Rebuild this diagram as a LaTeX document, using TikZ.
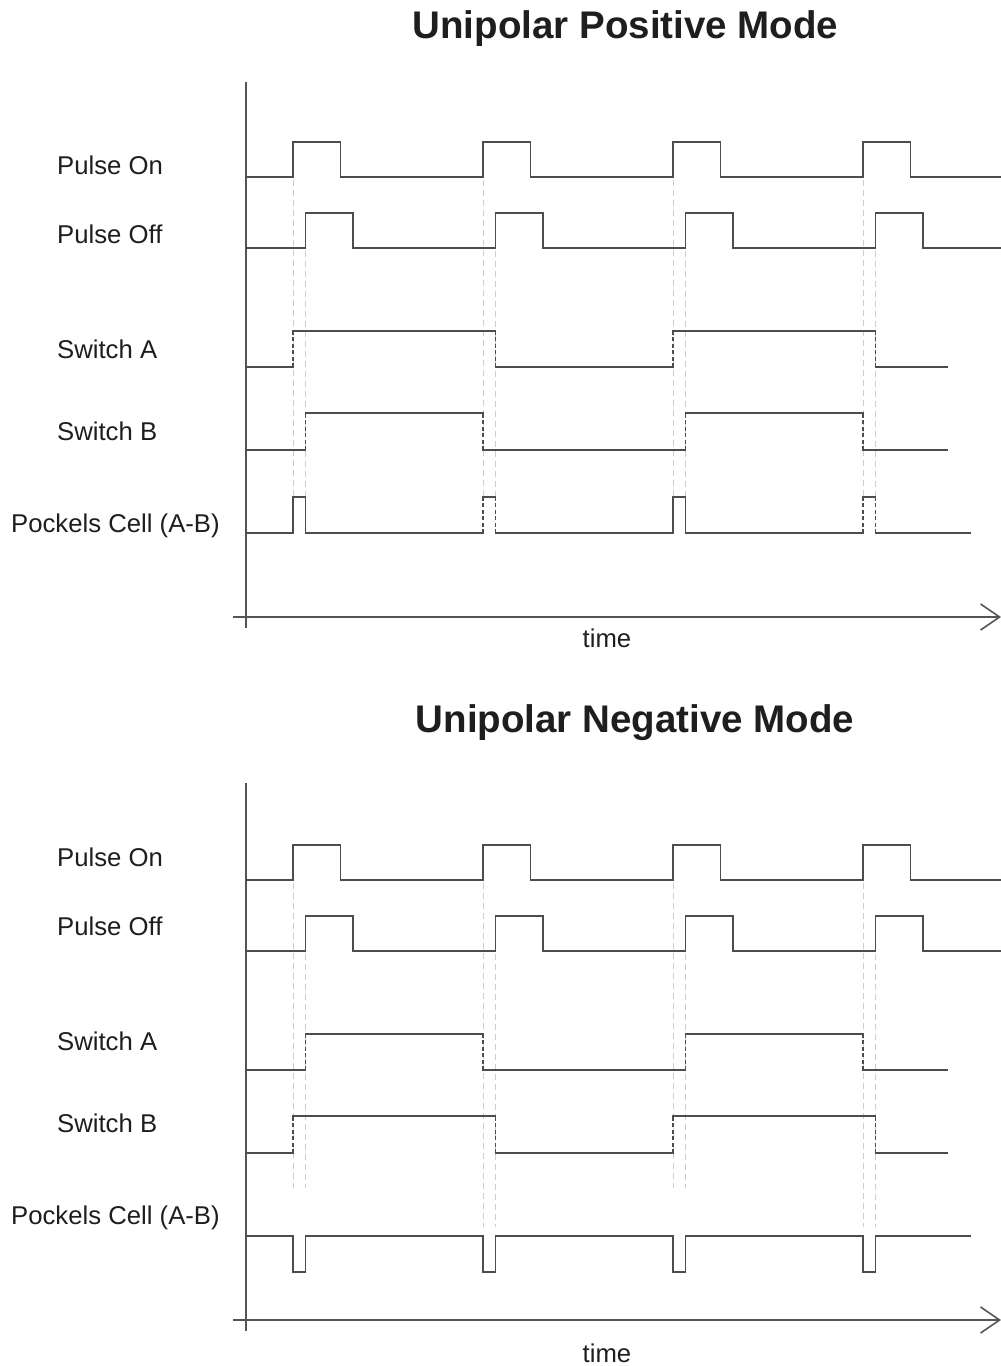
\documentclass[tikz,border=0pt]{standalone}
\usepackage{fontspec}
\setmainfont{Liberation Sans}
\usetikzlibrary{arrows.meta}

\definecolor{wavegray}{HTML}{4D4D4D}
\definecolor{axisgray}{HTML}{555555}
\definecolor{guidegray}{HTML}{CDCDCD}
\definecolor{txt}{HTML}{1E1E1E}

% switch waveform: low y, high y, rise, fall, rise, fall
\newcommand\sigsw[6]{%
  \draw[wave] (246,#1) -- (#3,#1) (#3,#2) -- (#4,#2) (#4,#1) -- (#5,#1)
              (#5,#2) -- (#6,#2) (#6,#1) -- (947,#1);
  \draw[edgedash] (#3,#1) -- (#3,#2) (#4,#1) -- (#4,#2)
                  (#5,#1) -- (#5,#2) (#6,#1) -- (#6,#2);}

% pulse trains shared by both modes
\newcommand\pulsetrains{%
  \draw[wave] (246,177) foreach \t in {293,483,673,863}
    { -- (\t,177) -- (\t,142) -- (\t+47.5,142) -- (\t+47.5,177) } -- (1000,177);
  \draw[wave] (246,248) foreach \t in {293,483,673,863}
    { -- (\t+12.5,248) -- (\t+12.5,213) -- (\t+60,213) -- (\t+60,248) } -- (1000,248);}

% time axes
\newcommand\timeaxes[1]{%
  \draw[axis] (246,#1) -- (246,628);
  \draw[axis,-{Straight Barb[length=19pt,width=26pt]}] (233,617) -- (1001,617);}

\begin{document}
\begin{tikzpicture}[x=1pt,y=-1pt,
  wave/.style={draw=wavegray,line width=1.6pt,line cap=rect},
  edgedash/.style={draw=wavegray,line width=1.6pt,dash pattern=on 4pt off 2.5pt},
  guide/.style={draw=guidegray,line width=0.9pt,dash pattern=on 6pt off 4pt},
  axis/.style={draw=axisgray,line width=1.6pt},
  lbl/.style={anchor=base west,inner sep=0pt,text=txt,font=\fontsize{25.7}{30}\selectfont},
  ttl/.style={anchor=base,inner sep=0pt,text=txt,font=\bfseries\fontsize{38.5}{44}\selectfont},
  tlbl/.style={anchor=base,inner sep=0pt,text=txt,font=\fontsize{25.7}{30}\selectfont}]

\useasboundingbox[fill=white] (0,0) rectangle (1001,1366);

% ---------------- Unipolar positive mode ----------------
\node[ttl] (ptitle) at (625.5,38) {Unipolar Positive Mode};

\foreach \t in {293,483,673,863} {
  \draw[guide] (\t,180) -- (\t,497);
  \draw[guide] (\t+12.5,251) -- (\t+12.5,497);
}

\timeaxes{82}
\node[tlbl] (ptime) at (607,647) {time};

\node[lbl] (pon)  at (57,174) {Pulse On};
\node[lbl] (poff) at (57,243) {Pulse Off};
\node[lbl] (psa)  at (57,358) {Switch A};
\node[lbl] (psb)  at (57,440) {Switch B};
\node[lbl] (ppc)  at (11,532) {Pockels Cell (A-B)};

\pulsetrains
\sigsw{367}{331}{293}{495.5}{673}{875.5}
\sigsw{450}{413}{305.5}{483}{685.5}{863}

% Pockels cell: A minus B
\draw[wave] (246,533) -- (293,533) (293,497) -- (305.5,497)
            (305.5,533) -- (483,533) (483,497) -- (495.5,497)
            (495.5,533) -- (673,533) (673,497) -- (685.5,497)
            (685.5,533) -- (863,533) (863,497) -- (875.5,497)
            (875.5,533) -- (970,533);
\draw[wave] (293,533) -- (293,497) (305.5,533) -- (305.5,497)
            (673,533) -- (673,497) (685.5,533) -- (685.5,497);
\draw[edgedash] (483,533) -- (483,497) (495.5,533) -- (495.5,497)
                (863,533) -- (863,497) (875.5,533) -- (875.5,497);

% ---------------- Unipolar negative mode ----------------
\begin{scope}[yshift=-703pt]
\node[ttl] (ntitle) at (635,29) {Unipolar Negative Mode};

\foreach \t/\e in {293/485,483/524,673/485,863/524} {
  \draw[guide] (\t,180) -- (\t,\e);
  \draw[guide] (\t+12.5,251) -- (\t+12.5,\e);
}

\timeaxes{80}
\node[tlbl] (ntime) at (607,659) {time};

\node[lbl] (non)  at (57,163) {Pulse On};
\node[lbl] (noff) at (57,232) {Pulse Off};
\node[lbl] (nsa)  at (57,347) {Switch A};
\node[lbl] (nsb)  at (57,429) {Switch B};
\node[lbl] (npc)  at (11,521) {Pockels Cell (A-B)};

\pulsetrains
\sigsw{367}{331}{305.5}{483}{685.5}{863}
\sigsw{450}{413}{293}{495.5}{673}{875.5}

% Pockels cell: A minus B, negative dips
\draw[wave] (246,533) foreach \t in {293,483,673,863}
  { -- (\t,533) -- (\t,569) -- (\t+12.5,569) -- (\t+12.5,533) } -- (970,533);
\end{scope}

\end{tikzpicture}
\end{document}
